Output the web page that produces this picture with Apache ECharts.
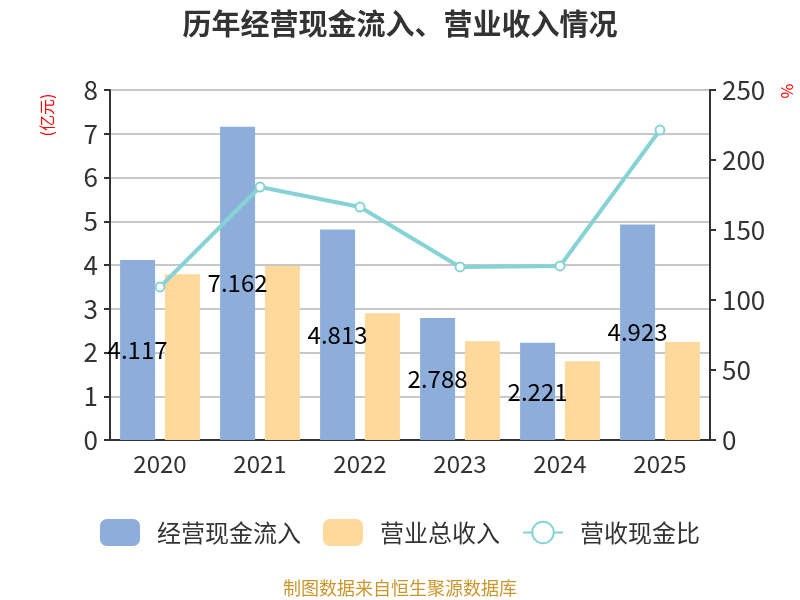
<!DOCTYPE html>
<html>
<head>
<meta charset="utf-8">
<script src="https://cdn.jsdelivr.net/npm/echarts@6/dist/echarts.min.js"></script>
<style>
  html, body { margin: 0; padding: 0; background: #fff; }
  #main { width: 800px; height: 600px; }
</style>
</head>
<body>
<div id="main"></div>
<script>
// 数据
var years = ['2020', '2021', '2022', '2023', '2024', '2025']
var cashIn = [4.117, 7.162, 4.813, 2.788, 2.221, 4.923]
var revenue = [3.79, 3.98, 2.90, 2.26, 1.80, 2.24]
var ratio = [109.3, 180.7, 166.4, 123.6, 124.3, 221.4]
var leftTicks = { min: 0, max: 8, interval: 1 }
var rightTicks = { min: 0, max: 250, interval: 50 }

var font = '"Noto Sans CJK SC", "Noto Sans", sans-serif'
var myChart = echarts.init(document.getElementById('main'))
var option = {
  backgroundColor: '#fff',
  textStyle: { fontFamily: font },
  title: {
    text: '历年经营现金流入、营业收入情况',
    left: 'center',
    top: 4,
    textStyle: { fontSize: 29, fontWeight: 'bold', color: '#333', fontFamily: font }
  },
  grid: { left: 110, right: 90, top: 90, bottom: 160 },
  legend: {
    bottom: 49,
    left: 'center',
    itemWidth: 40,
    itemHeight: 27,
    itemGap: 22,
    textStyle: { fontSize: 24, color: '#333', fontFamily: font, padding: [0, 0, 0, 12] },
    data: [
      { name: '经营现金流入', icon: 'roundRect' },
      { name: '营业总收入', icon: 'roundRect' },
      { name: '营收现金比' }
    ]
  },
  graphic: [{
    type: 'text',
    left: 'center',
    top: 579,
    style: { text: '制图数据来自恒生聚源数据库', fill: '#c9962c', font: '18px ' + font }
  }, {
    // 左轴单位
    type: 'text',
    x: 47, y: 115,
    rotation: Math.PI / 2,
    style: { text: '(亿元)', fill: '#ff0000', font: '16px ' + font, align: 'center', verticalAlign: 'middle' }
  }, {
    // 右轴单位
    type: 'text',
    x: 787, y: 91,
    rotation: -Math.PI / 2,
    style: { text: '%', fill: '#ff0000', font: '16px ' + font, align: 'center', verticalAlign: 'middle' }
  }],
  xAxis: {
    type: 'category',
    data: years,
    axisLine: { lineStyle: { color: '#333', width: 2 } },
    axisTick: { length: 6, lineStyle: { color: '#333', width: 2 } },
    axisLabel: { fontSize: 24, color: '#333', margin: 12 }
  },
  yAxis: [{
    type: 'value',
    min: leftTicks.min, max: leftTicks.max, interval: leftTicks.interval,
    axisLine: { show: true, lineStyle: { color: '#333', width: 2 } },
    axisTick: { show: true, length: 6, lineStyle: { color: '#333', width: 2 } },
    axisLabel: { fontSize: 26, color: '#333', margin: 12 },
    splitLine: { lineStyle: { color: '#c8c8c8', width: 2 } }
  }, {
    type: 'value',
    min: rightTicks.min, max: rightTicks.max, interval: rightTicks.interval,
    axisLine: { show: true, lineStyle: { color: '#333', width: 2 } },
    axisTick: { show: true, length: 6, lineStyle: { color: '#333', width: 2 } },
    axisLabel: { fontSize: 26, color: '#333', margin: 12 },
    splitLine: { show: false }
  }],
  series: [{
    name: '经营现金流入',
    type: 'bar',
    data: cashIn,
    barWidth: '35%',
    barGap: '28%',
    itemStyle: { color: '#8daddb' },
    label: { show: true, position: 'inside', color: '#000', fontSize: 24, formatter: function (p) { return p.value.toFixed(3) } }
  }, {
    name: '营业总收入',
    type: 'bar',
    data: revenue,
    barWidth: '35%',
    itemStyle: { color: '#fed99b' }
  }, {
    name: '营收现金比',
    type: 'line',
    yAxisIndex: 1,
    data: ratio,
    symbol: 'circle',
    symbolSize: 9,
    lineStyle: { color: '#86d3d6', width: 4 },
    itemStyle: { color: '#fff', borderColor: '#86d3d6', borderWidth: 2 },
    z: 5
  }]
}
myChart.setOption(option)
</script>
</body>
</html>
